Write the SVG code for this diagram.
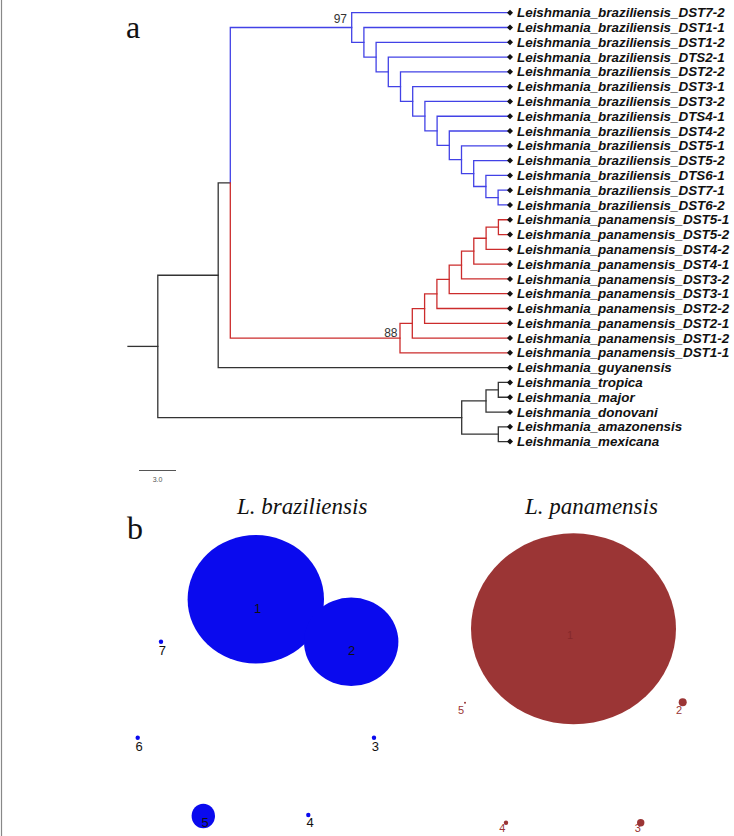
<svg xmlns="http://www.w3.org/2000/svg" xmlns:xlink="http://www.w3.org/1999/xlink" width="734" height="836" viewBox="0 0 734 836">
<style>
.br{fill:none;stroke-width:1.3;stroke-linejoin:miter;stroke-linecap:square}
.bl{stroke:#4242e6}
.rd{stroke:#cc2c2c}
.bk{stroke:#333333}
.leaf{font-family:"Liberation Sans",Arial,sans-serif;font-size:13.4px;font-weight:bold;font-style:italic;fill:#111}
.boot{font-family:"Liberation Sans",Arial,sans-serif;font-size:12px;fill:#333}
.panel{font-family:"Liberation Serif","Times New Roman",serif;font-size:32px;fill:#111}
.sp{font-family:"Liberation Serif","Times New Roman",serif;font-size:23px;font-style:italic;fill:#111}
.nb{font-family:"Liberation Sans",Arial,sans-serif;font-size:13px;fill:#111;text-anchor:middle}
.nr{font-family:"Liberation Sans",Arial,sans-serif;font-size:11px;fill:#9a3535;text-anchor:middle}
.cb{fill:#0a0aee}
.cr{fill:#9b3535}
</style>
<defs>
<path id="dm" d="M0 -3 L3 0 L0 3 L-3 0Z" fill="#111"/>
</defs>
<rect width="734" height="836" fill="#ffffff"/>
<line x1="1.5" y1="0" x2="1.5" y2="836" stroke="#888" stroke-width="1.2"/>
<text class="panel" x="126" y="37.5">a</text>
<text class="panel" x="127" y="539">b</text>

<g id="connectors">
<path class="br bk" d="M128 346.4 H157.8"/>
<path class="br bk" d="M218.2 275.23 H157.8 V417.58 H461.7"/>
<path class="br bk" d="M230.3 182.8 H218.2 V367.66 H510"/>
<path class="br bk" d="M486 400.94 H461.7 V434.22 H498.3"/>
<path class="br bk" d="M498.3 389.85 H486 V412.03 H510"/>
<path class="br bk" d="M510 382.45 H498.3 V397.24 H510"/>
<path class="br bk" d="M510 426.82 H498.3 V441.61 H510"/>
<path class="br bl" d="M230.3 182.8 V27.49 H351.7"/>
<path class="br bl" d="M510 12.7 H351.7 V42.28 H363.9"/>
<path class="br bl" d="M510 27.49 H363.9 V57.06 H376.1"/>
<path class="br bl" d="M510 42.28 H376.1 V71.85 H388.3"/>
<path class="br bl" d="M510 57.07 H388.3 V86.62 H400.5"/>
<path class="br bl" d="M510 71.86 H400.5 V101.38 H412.7"/>
<path class="br bl" d="M510 86.65 H412.7 V116.11 H424.9"/>
<path class="br bl" d="M510 101.44 H424.9 V130.79 H437.1"/>
<path class="br bl" d="M510 116.23 H437.1 V145.35 H449.3"/>
<path class="br bl" d="M510 131.02 H449.3 V159.68 H461.5"/>
<path class="br bl" d="M510 145.81 H461.5 V173.54 H473.7"/>
<path class="br bl" d="M510 160.6 H473.7 V186.49 H485.9"/>
<path class="br bl" d="M510 175.39 H485.9 V197.58 H498.1"/>
<path class="br bl" d="M510 190.18 H498.1 V204.97 H510"/>
<path class="br rd" d="M230.3 182.8 V338.11 H400"/>
<path class="br rd" d="M412.3 323.35 H400 V352.87 H510"/>
<path class="br rd" d="M424.6 308.62 H412.3 V338.08 H510"/>
<path class="br rd" d="M436.9 293.94 H424.6 V323.29 H510"/>
<path class="br rd" d="M449.2 279.38 H436.9 V308.5 H510"/>
<path class="br rd" d="M461.5 265.06 H449.2 V293.71 H510"/>
<path class="br rd" d="M473.8 251.19 H461.5 V278.92 H510"/>
<path class="br rd" d="M486.1 238.25 H473.8 V264.13 H510"/>
<path class="br rd" d="M498.4 227.16 H486.1 V249.34 H510"/>
<path class="br rd" d="M510 219.76 H498.4 V234.55 H510"/>
</g>

<text class="boot" x="347" y="23.3" text-anchor="end">97</text>
<text class="boot" x="397.5" y="336.7" text-anchor="end">88</text>

<g id="leaf-braz-DST7-2"><use xlink:href="#dm" x="510" y="12.7"/><text class="leaf" x="517" y="17.3">Leishmania_braziliensis_DST7-2</text></g>
<g id="leaf-braz-DST1-1"><use xlink:href="#dm" x="510" y="27.49"/><text class="leaf" x="517" y="32.09">Leishmania_braziliensis_DST1-1</text></g>
<g id="leaf-braz-DST1-2"><use xlink:href="#dm" x="510" y="42.28"/><text class="leaf" x="517" y="46.88">Leishmania_braziliensis_DST1-2</text></g>
<g id="leaf-braz-DTS2-1"><use xlink:href="#dm" x="510" y="57.07"/><text class="leaf" x="517" y="61.67">Leishmania_braziliensis_DTS2-1</text></g>
<g id="leaf-braz-DST2-2"><use xlink:href="#dm" x="510" y="71.86"/><text class="leaf" x="517" y="76.46">Leishmania_braziliensis_DST2-2</text></g>
<g id="leaf-braz-DST3-1"><use xlink:href="#dm" x="510" y="86.65"/><text class="leaf" x="517" y="91.25">Leishmania_braziliensis_DST3-1</text></g>
<g id="leaf-braz-DST3-2"><use xlink:href="#dm" x="510" y="101.44"/><text class="leaf" x="517" y="106.04">Leishmania_braziliensis_DST3-2</text></g>
<g id="leaf-braz-DTS4-1"><use xlink:href="#dm" x="510" y="116.23"/><text class="leaf" x="517" y="120.83">Leishmania_braziliensis_DTS4-1</text></g>
<g id="leaf-braz-DST4-2"><use xlink:href="#dm" x="510" y="131.02"/><text class="leaf" x="517" y="135.62">Leishmania_braziliensis_DST4-2</text></g>
<g id="leaf-braz-DST5-1"><use xlink:href="#dm" x="510" y="145.81"/><text class="leaf" x="517" y="150.41">Leishmania_braziliensis_DST5-1</text></g>
<g id="leaf-braz-DST5-2"><use xlink:href="#dm" x="510" y="160.6"/><text class="leaf" x="517" y="165.2">Leishmania_braziliensis_DST5-2</text></g>
<g id="leaf-braz-DTS6-1"><use xlink:href="#dm" x="510" y="175.39"/><text class="leaf" x="517" y="179.99">Leishmania_braziliensis_DTS6-1</text></g>
<g id="leaf-braz-DST7-1"><use xlink:href="#dm" x="510" y="190.18"/><text class="leaf" x="517" y="194.78">Leishmania_braziliensis_DST7-1</text></g>
<g id="leaf-braz-DST6-2"><use xlink:href="#dm" x="510" y="204.97"/><text class="leaf" x="517" y="209.57">Leishmania_braziliensis_DST6-2</text></g>
<g id="leaf-pan-DST5-1"><use xlink:href="#dm" x="510" y="219.76"/><text class="leaf" x="517" y="224.36">Leishmania_panamensis_DST5-1</text></g>
<g id="leaf-pan-DST5-2"><use xlink:href="#dm" x="510" y="234.55"/><text class="leaf" x="517" y="239.15">Leishmania_panamensis_DST5-2</text></g>
<g id="leaf-pan-DST4-2"><use xlink:href="#dm" x="510" y="249.34"/><text class="leaf" x="517" y="253.94">Leishmania_panamensis_DST4-2</text></g>
<g id="leaf-pan-DST4-1"><use xlink:href="#dm" x="510" y="264.13"/><text class="leaf" x="517" y="268.73">Leishmania_panamensis_DST4-1</text></g>
<g id="leaf-pan-DST3-2"><use xlink:href="#dm" x="510" y="278.92"/><text class="leaf" x="517" y="283.52">Leishmania_panamensis_DST3-2</text></g>
<g id="leaf-pan-DST3-1"><use xlink:href="#dm" x="510" y="293.71"/><text class="leaf" x="517" y="298.31">Leishmania_panamensis_DST3-1</text></g>
<g id="leaf-pan-DST2-2"><use xlink:href="#dm" x="510" y="308.5"/><text class="leaf" x="517" y="313.1">Leishmania_panamensis_DST2-2</text></g>
<g id="leaf-pan-DST2-1"><use xlink:href="#dm" x="510" y="323.29"/><text class="leaf" x="517" y="327.89">Leishmania_panamensis_DST2-1</text></g>
<g id="leaf-pan-DST1-2"><use xlink:href="#dm" x="510" y="338.08"/><text class="leaf" x="517" y="342.68">Leishmania_panamensis_DST1-2</text></g>
<g id="leaf-pan-DST1-1"><use xlink:href="#dm" x="510" y="352.87"/><text class="leaf" x="517" y="357.47">Leishmania_panamensis_DST1-1</text></g>
<g id="leaf-guyanensis"><use xlink:href="#dm" x="510" y="367.66"/><text class="leaf" x="517" y="372.26">Leishmania_guyanensis</text></g>
<g id="leaf-tropica"><use xlink:href="#dm" x="510" y="382.45"/><text class="leaf" x="517" y="387.05">Leishmania_tropica</text></g>
<g id="leaf-major"><use xlink:href="#dm" x="510" y="397.24"/><text class="leaf" x="517" y="401.84">Leishmania_major</text></g>
<g id="leaf-donovani"><use xlink:href="#dm" x="510" y="412.03"/><text class="leaf" x="517" y="416.63">Leishmania_donovani</text></g>
<g id="leaf-amazonensis"><use xlink:href="#dm" x="510" y="426.82"/><text class="leaf" x="517" y="431.42">Leishmania_amazonensis</text></g>
<g id="leaf-mexicana"><use xlink:href="#dm" x="510" y="441.61"/><text class="leaf" x="517" y="446.21">Leishmania_mexicana</text></g>

<g id="scalebar">
<line x1="139" y1="470.5" x2="176" y2="470.5" stroke="#555" stroke-width="1"/>
<text x="157.5" y="482" text-anchor="middle" font-family="Liberation Sans, Arial, sans-serif" font-size="7" fill="#555">3.0</text>
</g>

<text class="sp" x="237" y="514">L. braziliensis</text>
<text class="sp" x="525" y="514">L. panamensis</text>

<g id="braz-1"><ellipse class="cb" cx="255.8" cy="599.2" rx="68.2" ry="64.2"/><text class="nb" x="257.7" y="613">1</text></g>
<g id="braz-2"><ellipse class="cb" cx="351.2" cy="641.8" rx="47.2" ry="44.2"/><text class="nb" x="351.7" y="655">2</text></g>
<g id="braz-7"><circle class="cb" cx="161" cy="641.7" r="2.2"/><text class="nb" x="162.3" y="654.5">7</text></g>
<g id="braz-6"><circle class="cb" cx="137.7" cy="737.7" r="2.2"/><text class="nb" x="139" y="751">6</text></g>
<g id="braz-3"><circle class="cb" cx="374" cy="737.7" r="2.2"/><text class="nb" x="375.3" y="751">3</text></g>
<g id="braz-5"><ellipse class="cb" cx="203.3" cy="816" rx="11.7" ry="12.2"/><text class="nb" x="205" y="827">5</text></g>
<g id="braz-4"><circle class="cb" cx="308.3" cy="815" r="2.2"/><text class="nb" x="310" y="827">4</text></g>

<g id="pan-1"><ellipse class="cr" cx="573.5" cy="628.8" rx="102.5" ry="95.5"/><text class="nr" x="570" y="639" fill="#85292b" style="fill:#85292b">1</text></g>
<g id="pan-2"><circle class="cr" cx="682.7" cy="702.3" r="4"/><text class="nr" x="679" y="714">2</text></g>
<g id="pan-5"><circle class="cr" cx="465" cy="702.7" r="1"/><text class="nr" x="461" y="714">5</text></g>
<g id="pan-4"><circle class="cr" cx="506" cy="822.7" r="2.2"/><text class="nr" x="502.3" y="832">4</text></g>
<g id="pan-3"><circle class="cr" cx="640.7" cy="822.7" r="3.7"/><text class="nr" x="637.7" y="832">3</text></g>
</svg>
